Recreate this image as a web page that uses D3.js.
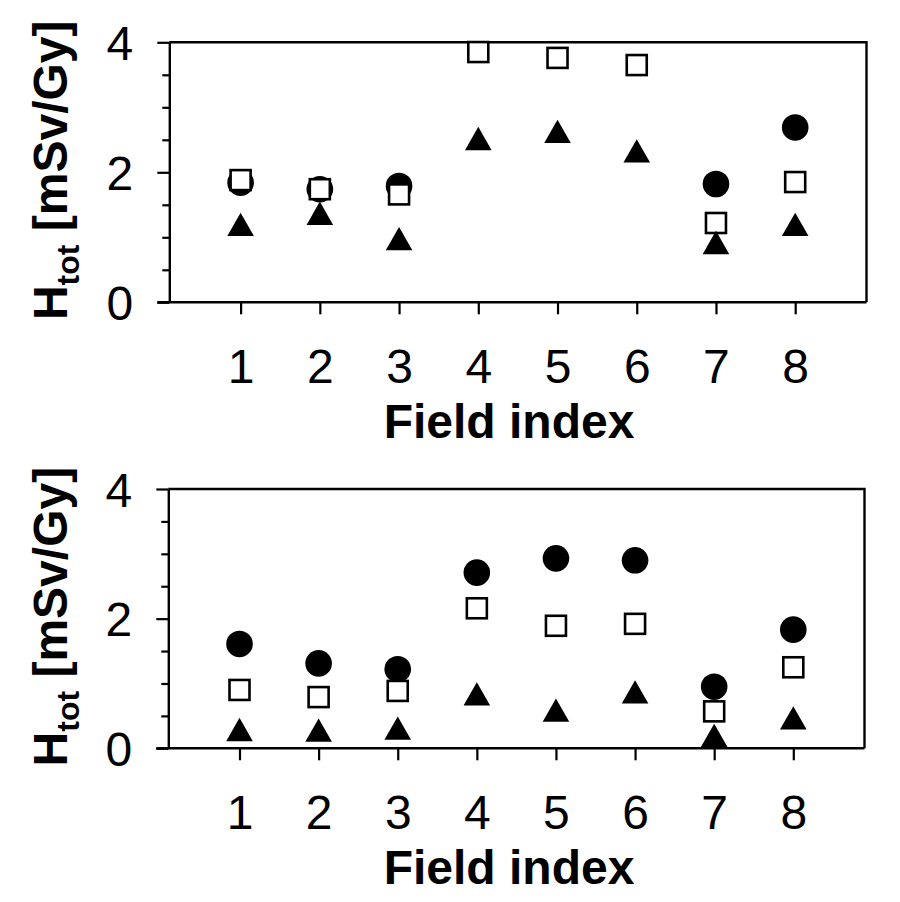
<!DOCTYPE html>
<html>
<head>
<meta charset="utf-8">
<script src="https://cdn.jsdelivr.net/npm/d3@7"></script>
<style>
  html, body { margin: 0; padding: 0; background: #fff; }
  svg { display: block; }
  text { font-family: "Liberation Sans", Arial, sans-serif; fill: #000; }
</style>
</head>
<body>
<svg id="chart" width="900" height="902"></svg>
<script>
// ---- data ----
const fields = [1, 2, 3, 4, 5, 6, 7, 8];
const xTickLabels = ["1", "2", "3", "4", "5", "6", "7", "8"];
const yTickLabels = ["0", "2", "4"];

const topCircles   = [1.84, 1.74, 1.79, null, null, null, 1.82, 2.69];
const topSquares   = [1.88, 1.74, 1.66, 3.85, 3.76, 3.65, 1.22, 1.85];
const topTriangles = [1.20, 1.37, 0.98, 2.52, 2.63, 2.33, 0.92, 1.20];

const bottomCircles   = [1.61, 1.31, 1.22, 2.71, 2.93, 2.90, 0.95, 1.83];
const bottomSquares   = [0.90, 0.79, 0.885, 2.16, 1.89, 1.92, 0.57, 1.25];
const bottomTriangles = [0.29, 0.28, 0.31, 0.84, 0.59, 0.87, 0.20, 0.47];

const xTitle = "Field index";

// ---- drawing ----
const svg = d3.select("#chart");

const panels = [
  { left: 169.3, right: 866.5, top: 42.3, bottom: 302.3,
    circles: topCircles, squares: topSquares, triangles: topTriangles },
  { left: 168.3, right: 864.5, top: 489, bottom: 748.3,
    circles: bottomCircles, squares: bottomSquares, triangles: bottomTriangles }
];

const triSym = d3.symbol().type({
  draw(ctx) {
    // isoceles triangle, width 26.6, height 23.3, centered on bbox
    const w = 13.3, h = 11.65;
    ctx.moveTo(0, -h);
    ctx.lineTo(w, h);
    ctx.lineTo(-w, h);
    ctx.closePath();
  }
});

panels.forEach(p => {
  const g = svg.append("g");
  const x = d3.scaleLinear().domain([0.1, 8.9]).range([p.left, p.right]);
  const y = d3.scaleLinear().domain([0, 4]).range([p.bottom, p.top]);

  // frame (top + right)
  g.append("path")
    .attr("d", `M${p.left},${p.top}H${p.right}V${p.bottom}`)
    .attr("fill", "none").attr("stroke", "#000").attr("stroke-width", 2.4);

  // y axis: major ticks
  const yMajor = d3.axisLeft(y).tickValues([0, 2, 4])
    .tickFormat((d, i) => yTickLabels[i]).tickSize(12).tickSizeOuter(0).tickPadding(24);
  const ya = g.append("g").attr("transform", `translate(${p.left},0)`).call(yMajor);
  ya.select(".domain").attr("stroke-width", 2.4);
  ya.selectAll(".tick line").attr("stroke-width", 2.2);
  ya.selectAll(".tick text")
    .style("font-family", '"Liberation Sans", Arial, sans-serif')
    .style("font-size", "48px").attr("fill", "#000").attr("dy", "0.36em");

  // y minor ticks
  const yMinor = d3.axisLeft(y).tickValues(d3.range(0.5, 4, 0.5).filter(v => v !== 2))
    .tickFormat("").tickSize(7).tickSizeOuter(0);
  const ym = g.append("g").attr("transform", `translate(${p.left},0)`).call(yMinor);
  ym.select(".domain").remove();
  ym.selectAll(".tick line").attr("stroke-width", 2.2);

  // x axis
  const xAxis = d3.axisBottom(x).tickValues(fields)
    .tickFormat((d, i) => xTickLabels[i]).tickSize(12).tickSizeOuter(0).tickPadding(32);
  const xa = g.append("g").attr("transform", `translate(0,${p.bottom})`).call(xAxis);
  xa.select(".domain").attr("stroke-width", 2.4)
    .attr("d", `M${p.left - 12},0H${p.right}`);
  xa.selectAll(".tick line").attr("stroke-width", 2.2);
  xa.selectAll(".tick text")
    .style("font-family", '"Liberation Sans", Arial, sans-serif')
    .style("font-size", "48px").attr("fill", "#000")
    .attr("dy", null).attr("y", 80.4);

  // x title
  g.append("text")
    .attr("x", 509).attr("y", p.bottom + 136)
    .attr("text-anchor", "middle")
    .style("font-size", "48px").style("font-weight", "bold")
    .text(xTitle);

  // y title
  const yt = g.append("text")
    .attr("transform", `translate(67,${(p.top + p.bottom) / 2 - 2}) rotate(-90)`)
    .attr("text-anchor", "middle")
    .style("font-size", "48px").style("font-weight", "bold");
  yt.append("tspan").text("H");
  yt.append("tspan").attr("dy", 12).style("font-size", "32px").text("tot");
  yt.append("tspan").attr("dy", -12).text(" [mSv/Gy]");

  // markers: circles, squares, triangles
  g.append("g").selectAll("circle")
    .data(fields.map((f, i) => ({ f, v: p.circles[i] })).filter(d => d.v != null))
    .join("circle")
    .attr("cx", d => x(d.f)).attr("cy", d => y(d.v)).attr("r", 13.3)
    .attr("fill", "#000");

  const sq = 20;
  g.append("g").selectAll("rect")
    .data(fields.map((f, i) => ({ f, v: p.squares[i] })).filter(d => d.v != null))
    .join("rect")
    .attr("x", d => x(d.f) - sq / 2).attr("y", d => y(d.v) - sq / 2)
    .attr("width", sq).attr("height", sq)
    .attr("fill", "#fff").attr("stroke", "#000").attr("stroke-width", 2.6);

  g.append("g").selectAll("path")
    .data(fields.map((f, i) => ({ f, v: p.triangles[i] })).filter(d => d.v != null))
    .join("path")
    .attr("transform", d => `translate(${x(d.f)},${y(d.v)})`)
    .attr("d", triSym)
    .attr("fill", "#000");
});
</script>
</body>
</html>
